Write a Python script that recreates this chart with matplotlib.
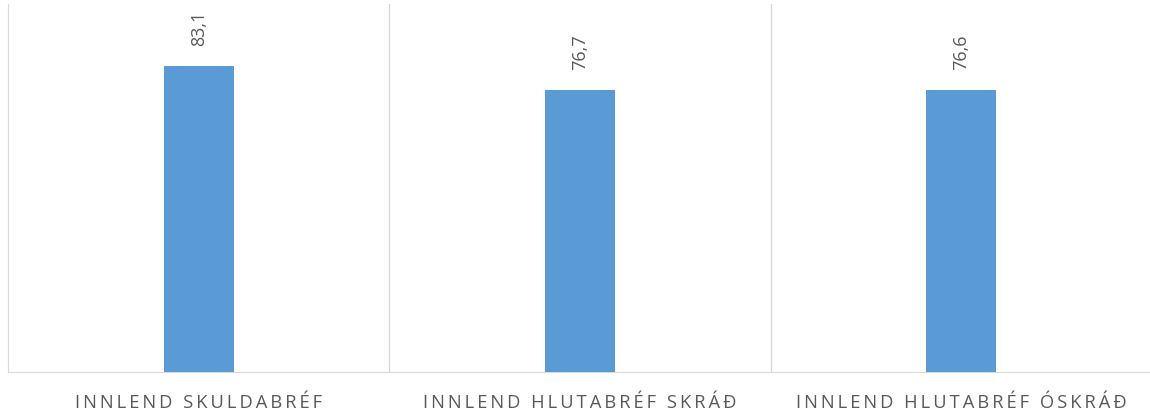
import matplotlib.pyplot as plt

categories = ['INNLEND SKULDABRÉF', 'INNLEND HLUTABRÉF SKRÁÐ', 'INNLEND HLUTABRÉF ÓSKRÁÐ']
values = [83.1, 76.7, 76.6]
value_labels = ['83,1', '76,7', '76,6']

plt.rcParams['font.family'] = ['Open Sans', 'DejaVu Sans']

def spaced(s):
    # imitate the wide letter spacing of the original
    return '\u2009'.join(s)

fig = plt.figure(figsize=(11.5, 4.14), dpi=100)
ax = fig.add_axes([8 / 1150, 1 - 373 / 414, 1144 / 1150, 368 / 414])

x = range(len(categories))
ax.bar(x, values, width=0.184, color='#5b9bd5', zorder=3)

for xi, v, lab in zip(x, values, value_labels):
    ax.annotate(lab, (xi, v), xytext=(0, 15), textcoords='offset points',
                rotation=90, ha='center', va='bottom', fontsize=13, color='#595959')

ax.set_xlim(-0.5, len(categories) - 0.5)
ax.set_ylim(0, 100)
ax.set_yticks([])
ax.set_xticks(list(x))
ax.set_xticklabels([spaced(c) for c in categories], fontsize=13.2, color='#595959')
ax.tick_params(axis='x', length=0, pad=15)

for b in [0.5, 1.5, 2.5]:
    ax.axvline(b, color='#d9d9d9', lw=1, zorder=1)

for side in ['top', 'right']:
    ax.spines[side].set_visible(False)
ax.spines['left'].set_color('#d9d9d9')
ax.spines['bottom'].set_color('#d9d9d9')

fig.savefig('out.png', dpi=100)
